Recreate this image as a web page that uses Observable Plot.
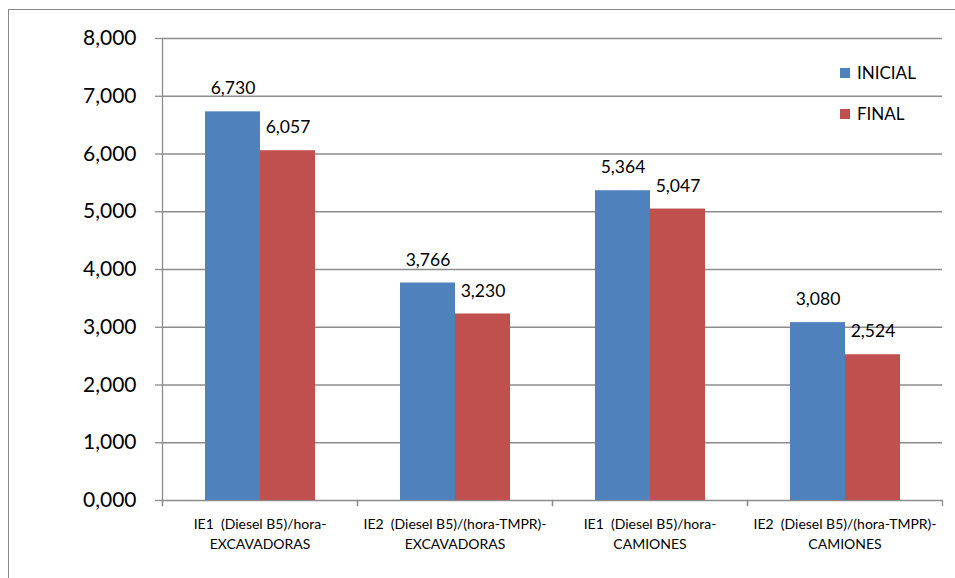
<!DOCTYPE html>
<html>
<head>
<meta charset="utf-8">
<script src="https://cdn.jsdelivr.net/npm/d3@7"></script>
<script src="https://cdn.jsdelivr.net/npm/@observablehq/plot@0.6"></script>
<style>
  html, body { margin: 0; padding: 0; background: #fff; }
  #chart { position: relative; width: 955px; height: 578px; overflow: hidden; font-family: Lato, "Open Sans", sans-serif; }
  #border { position: absolute; left: 8px; top: 9px; width: 1000px; height: 1000px; border-left: 1.5px solid #8a8a8a; border-top: 1.5px solid #8a8a8a; }
  #chart svg { position: absolute; left: 0; top: 0; }
  .legend { position: absolute; left: 840px; font-size: 17px; color: #000; }
  .legend .item { position: absolute; white-space: nowrap; display: flex; align-items: center; }
  .legend .sw { width: 10px; height: 10px; margin-right: 7px; }
</style>
</head>
<body>
<div id="chart"><div id="border"></div></div>
<script>
// Indicadores energéticos: consumo de Diesel B5 antes y después
const categories = [
  "IE1  (Diesel B5)/hora-\nEXCAVADORAS",
  "IE2  (Diesel B5)/(hora-TMPR)-\nEXCAVADORAS",
  "IE1  (Diesel B5)/hora-\nCAMIONES",
  "IE2  (Diesel B5)/(hora-TMPR)-\nCAMIONES"
];
const series = ["INICIAL", "FINAL"];
const inicial = [6.730, 3.766, 5.364, 3.080];
const final = [6.057, 3.230, 5.047, 2.524];
const colors = ["#4F81BD", "#C0504D"];
const yTicks = [0, 1, 2, 3, 4, 5, 6, 7, 8];

const data = categories.flatMap((c, i) => [
  {category: c, series: series[0], value: inicial[i]},
  {category: c, series: series[1], value: final[i]}
]);

// Spanish number format: comma as decimal separator, three decimals
const fmt = d3.formatLocale({decimal: ",", thousands: ".", grouping: [3], currency: ["", ""]}).format(".3f");

const W = 955, H = 578;
const mTop = 38, mBottom = 78, mLeft = 160, mRight = 12;
const innerH = H - mTop - mBottom;
const grey = "#8c8c8c";

const chart = Plot.plot({
  width: W,
  height: H,
  marginTop: mTop,
  marginBottom: mBottom,
  marginLeft: mLeft,
  marginRight: mRight,
  style: {fontFamily: "Lato, 'Open Sans', sans-serif", background: "transparent"},
  fx: {domain: categories, padding: 0, axis: null},
  x: {domain: series, paddingInner: 0, paddingOuter: 0.764, axis: null},
  y: {domain: [0, 8], axis: null},
  color: {domain: series, range: colors},
  marks: [
    Plot.gridY(yTicks, {stroke: grey, strokeOpacity: 1, strokeWidth: 1.3}),
    Plot.axisY(yTicks, {
      tickSize: 7, tickPadding: 19, stroke: grey, strokeWidth: 1.3, fill: "#000",
      fontSize: 21, tickFormat: fmt, label: null
    }),
    // vertical axis line on the first panel
    Plot.frame({anchor: "left", facetAnchor: "left", stroke: grey, strokeWidth: 1.3, insetBottom: -5}),
    // small tick marks at the category boundaries below the baseline
    Plot.frame({anchor: "left", stroke: grey, strokeWidth: 1.3, insetTop: innerH, insetBottom: -5}),
    Plot.frame({anchor: "right", stroke: grey, strokeWidth: 1.3, insetTop: innerH, insetBottom: -5}),
    Plot.barY(data, {fx: "category", x: "series", y: "value", fill: "series"}),
    Plot.text(data, {
      fx: "category", x: "series", y: "value", text: d => fmt(d.value),
      dy: -23, fontSize: 17.5, fill: "#000"
    }),
    Plot.axisFx({
      anchor: "bottom", tickSize: 0, tickPadding: 15, fontSize: 14, lineHeight: 1.38,
      fill: "#000", label: null, lineAnchor: "top"
    })
  ]
});

document.getElementById("chart").appendChild(chart);

// legend
const legend = document.createElement("div");
legend.className = "legend";
series.forEach((s, i) => {
  const item = document.createElement("div");
  item.className = "item";
  item.style.top = (62 + i * 41) + "px";
  const sw = document.createElement("span");
  sw.className = "sw";
  sw.style.background = colors[i];
  const t = document.createElement("span");
  t.textContent = s;
  item.appendChild(sw);
  item.appendChild(t);
  legend.appendChild(item);
});
document.getElementById("chart").appendChild(legend);
</script>
</body>
</html>
